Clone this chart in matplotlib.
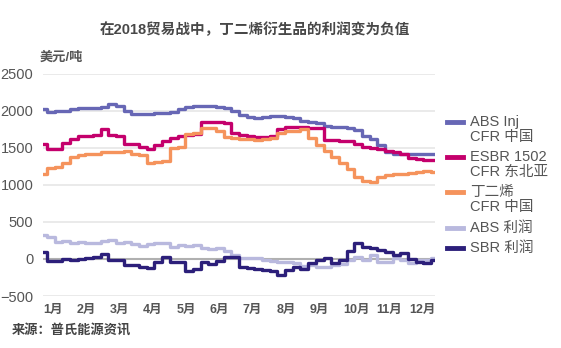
import numpy as np
import matplotlib
matplotlib.use("Agg")
import matplotlib.pyplot as plt
from matplotlib.lines import Line2D

plt.rcParams['font.family'] = ['Liberation Sans', 'Noto Sans CJK SC', 'DejaVu Sans']

months = ["1月", "2月", "3月", "4月", "5月", "6月", "7月", "8月", "9月", "10月", "11月", "12月"]

# weekly values, USD/t
abs_inj = [2030, 1985, 1995, 2005, 2030, 2045, 2045, 2045, 2050, 2100, 2070, 2000, 1955,
           1955, 1965, 1968, 1968, 1985, 2025, 2050, 2067, 2067, 2065, 2050, 2035, 1995,
           1950, 1915, 1900, 1918, 1930, 1936, 1925, 1900, 1870, 1855, 1840, 1800, 1790,
           1785, 1775, 1740, 1660, 1620, 1545, 1450, 1420, 1415, 1415, 1415, 1425, 1420]
esbr = [1550, 1490, 1486, 1570, 1620, 1665, 1668, 1670, 1752, 1680, 1666, 1555, 1550,
        1517, 1486, 1540, 1590, 1640, 1665, 1675, 1690, 1855, 1850, 1845, 1835, 1700,
        1670, 1665, 1650, 1650, 1665, 1760, 1780, 1780, 1778, 1775, 1770, 1610, 1605,
        1600, 1600, 1560, 1515, 1495, 1480, 1455, 1440, 1425, 1360, 1350, 1342, 1335]
butadiene = [1150, 1225, 1245, 1295, 1385, 1400, 1414, 1425, 1440, 1445, 1450, 1460, 1425,
             1405, 1300, 1310, 1324, 1500, 1510, 1690, 1700, 1770, 1775, 1730, 1650, 1630,
             1625, 1620, 1610, 1625, 1640, 1700, 1730, 1730, 1750, 1640, 1540, 1465, 1380,
             1300, 1215, 1112, 1050, 1045, 1110, 1135, 1143, 1150, 1162, 1172, 1195, 1180]
abs_profit = [320, 300, 235, 250, 212, 225, 215, 212, 250, 255, 212, 225, 200,
              175, 200, 210, 212, 158, 189, 175, 189, 150, 135, 144, 112, 60,
              20, 9, 20, -10, -30, -36, -45, -60, -100, -80, -105, -110, -80,
              -70, -15, 30, -13, 54, -36, -36, 9, -20, -58, -13, -20, 10]
sbr_profit = [99, -30, -30, -5, -15, -4, 15, 23, 68, -9, -9, -81, -81,
              -104, -117, -45, 31, -36, -36, -160, -130, -40, -65, -30, 31, 23,
              -104, -126, -130, -145, -160, -210, -150, -110, -130, -50, -10, 9, -50,
              -20, 110, 220, 160, 144, 125, 99, 54, 80, 5, -36, -58, -13]

series = [
    (["ABS Inj", "CFR 中国"], abs_inj, "#6767b5"),
    (["ESBR 1502", "CFR 东北亚"], esbr, "#c4006c"),
    (["丁二烯", "CFR 中国"], butadiene, "#f5935c"),
    (["ABS 利润"], abs_profit, "#b9b9de"),
    (["SBR 利润"], sbr_profit, "#2c1f7a"),
]

x = np.arange(len(abs_inj)) * 12 / 52

fig = plt.figure(figsize=(5.61, 3.48), dpi=100)
ax = fig.add_axes([43 / 561, 1 - 296 / 348, (435 - 43) / 561, (296 - 74) / 348])

for yv in [-500, 500, 1000, 1500, 2000, 2500]:
    ax.axhline(yv, color="#e8e8e8", lw=1.3, zorder=0)
ax.axhline(0, color="#b0b0b0", lw=1.5, zorder=0)

for labels, vals, col in series:
    ax.plot(x, vals, color=col, lw=2.4, drawstyle="steps-mid", solid_joinstyle="round")

ax.set_xlim(0, x[-1])
ax.set_ylim(-500, 2500)
ax.set_yticks([-500, 0, 500, 1000, 1500, 2000, 2500])
ax.set_xticks(np.arange(12))
ax.set_xticklabels(months)
for lab in ax.get_xticklabels():
    lab.set_ha("left")
    lab.set_fontweight("bold")
ax.tick_params(axis="y", length=0, pad=7, labelsize=10.5, labelcolor="#555555")
ax.tick_params(axis="x", length=0, pad=6, labelsize=9, labelcolor="#555555")
for s in ax.spines.values():
    s.set_visible(False)

fig.text(255 / 561, 1 - 30 / 348, "在2018贸易战中，丁二烯衍生品的利润变为负值",
         ha="center", va="center", fontsize=10.5, fontweight="bold", color="#484848")
fig.text(40 / 561, 1 - 58 / 348, "美元/吨", ha="left", va="center",
         fontsize=9.5, fontweight="bold", color="#555555")
fig.text(12 / 561, 1 - 330 / 348, "来源：普氏能源资讯", ha="left", va="center",
         fontsize=9.5, fontweight="bold", color="#444444")

# legend drawn by hand so handles sit on the first text line
leg_y = [122, 157, 192, 228, 248]
for (labels, vals, col), y0 in zip(series, leg_y):
    yf = 1 - y0 / 348
    fig.add_artist(Line2D([447 / 561, 463 / 561], [yf, yf], color=col, lw=3.5,
                          transform=fig.transFigure))
    for k, t in enumerate(labels):
        fig.text(470 / 561, 1 - (y0 + 14.7 * k) / 348, t, ha="left", va="center",
                 fontsize=10.5, color="#555555")

fig.savefig("out.png", dpi=100)
